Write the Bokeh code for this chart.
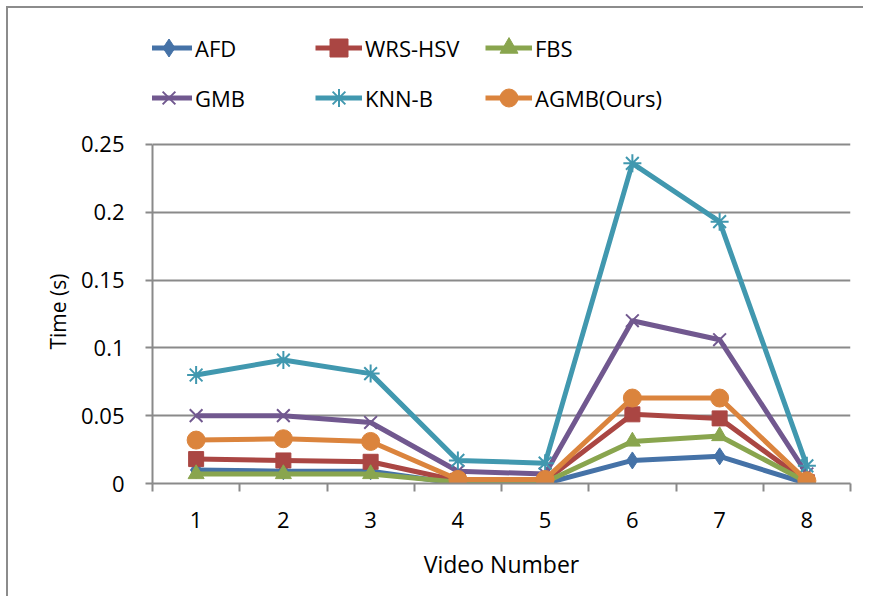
from bokeh.plotting import figure
from bokeh.models import Range1d, FixedTicker, Legend, LegendItem, Title
from bokeh.embed import file_html
from bokeh.resources import INLINE

videos = [1, 2, 3, 4, 5, 6, 7, 8]
x_tick_labels = ["1", "2", "3", "4", "5", "6", "7", "8"]
series_names = ["AFD", "WRS-HSV", "FBS", "GMB", "KNN-B", "AGMB(Ours)"]
afd = [0.010, 0.009, 0.009, 0.000, 0.000, 0.017, 0.020, 0.000]
wrs_hsv = [0.018, 0.017, 0.016, 0.002, 0.002, 0.051, 0.048, 0.001]
fbs = [0.007, 0.007, 0.007, 0.001, 0.001, 0.031, 0.035, 0.001]
gmb = [0.050, 0.050, 0.045, 0.009, 0.007, 0.120, 0.106, 0.007]
knn_b = [0.080, 0.091, 0.081, 0.017, 0.015, 0.236, 0.193, 0.013]
agmb = [0.032, 0.033, 0.031, 0.003, 0.003, 0.063, 0.063, 0.002]
y_ticks = [0, 0.05, 0.1, 0.15, 0.2, 0.25]
y_tick_labels = ["0", "0.05", "0.1", "0.15", "0.2", "0.25"]

all_series = [afd, wrs_hsv, fbs, gmb, knn_b, agmb]
colors = ["#4572A7", "#AA4643", "#89A54E", "#71588F", "#4198AF", "#DB843D"]
markers = ["diamond", "square", "triangle", "x", "asterisk", "circle"]
msizes = [17, 15, 16, 18, 18, 18]

FONT = "Open Sans"
GRAY = "#8a8a8a"

# the frame extends above the data area to host the legend; axis is bounded to 0..0.25
p = figure(width=857, height=590, output_backend="svg", toolbar_location=None,
           x_range=Range1d(0.5, 8.5), y_range=Range1d(0, 0.345),
           min_border_left=144, min_border_right=15, min_border_top=7,
           min_border_bottom=115)
p.styles = {"border-left": "2px solid #8c8c8c", "border-top": "2px solid #8c8c8c",
            "margin-left": "6px", "margin-top": "6px"}
p.outline_line_color = None
p.background_fill_color = "white"
p.border_fill_color = "white"

# axes
p.xaxis.ticker = FixedTicker(ticks=videos, minor_ticks=[v - 0.5 for v in videos] + [8.5])
p.xaxis.major_label_overrides = {v: l for v, l in zip(videos, x_tick_labels)}
p.xaxis.major_tick_line_color = None
p.xaxis.minor_tick_line_color = GRAY
p.xaxis.minor_tick_line_width = 2
p.xaxis.minor_tick_out = 8
p.xaxis.minor_tick_in = 0
p.xaxis.axis_label = "Video Number"
p.xaxis.major_label_standoff = 20
p.xaxis.axis_label_standoff = 17

p.yaxis.ticker = FixedTicker(ticks=y_ticks)
p.yaxis.bounds = (y_ticks[0], y_ticks[-1])
p.yaxis.major_label_overrides = {v: l for v, l in zip(y_ticks, y_tick_labels)}
p.yaxis.major_tick_line_color = GRAY
p.yaxis.major_tick_line_width = 2
p.yaxis.major_tick_out = 7
p.yaxis.major_tick_in = 0
p.yaxis.minor_tick_line_color = None
p.yaxis.major_label_standoff = 21

for ax in (p.xaxis[0], p.yaxis[0]):
    ax.axis_line_color = GRAY
    ax.axis_line_width = 2
    ax.major_label_text_font = FONT
    ax.major_label_text_font_size = "22px"
    ax.major_label_text_color = "black"
    ax.axis_label_text_font = FONT
    ax.axis_label_text_font_size = "23px"
    ax.axis_label_text_font_style = "normal"
    ax.axis_label_text_color = "black"

# y-axis title centred on the 0..0.25 data span
ytitle = Title(text="Time (s)", align="left", offset=134, standoff=12,
               text_font=FONT, text_font_size="21px", text_font_style="normal",
               text_color="black")
p.add_layout(ytitle, "left")

p.xgrid.grid_line_color = None
p.ygrid.grid_line_color = GRAY
p.ygrid.grid_line_width = 2
p.ygrid.ticker = FixedTicker(ticks=y_ticks[1:])

items = []
for name, vals, c, m, s in zip(series_names, all_series, colors, markers, msizes):
    lr = p.line(videos, vals, line_color=c, line_width=5)
    if m in ("x", "asterisk"):
        sr = p.scatter(videos, vals, marker=m, size=s, line_color=c, line_width=2, fill_color=c)
    else:
        sr = p.scatter(videos, vals, marker=m, size=s, line_color=c, line_width=1, fill_color=c)
    items.append(LegendItem(label=name, renderers=[lr, sr]))

# legend fills column-major: reorder so rows read AFD, WRS-HSV, FBS / GMB, KNN-B, AGMB
order = [0, 3, 1, 4, 2, 5]
legend = Legend(items=[items[i] for i in order], ncols=3, location=(-7, 363))
legend.glyph_width = 47
legend.glyph_height = 45
legend.label_height = 45
legend.label_width = 115
legend.label_standoff = 3
legend.spacing = 5
legend.padding = 0
legend.margin = 0
legend.border_line_color = None
legend.background_fill_alpha = 0
legend.label_text_font = FONT
legend.label_text_font_size = "22px"
legend.label_text_color = "black"
p.add_layout(legend, "center")

open("out.html", "w").write(file_html(p, INLINE))
